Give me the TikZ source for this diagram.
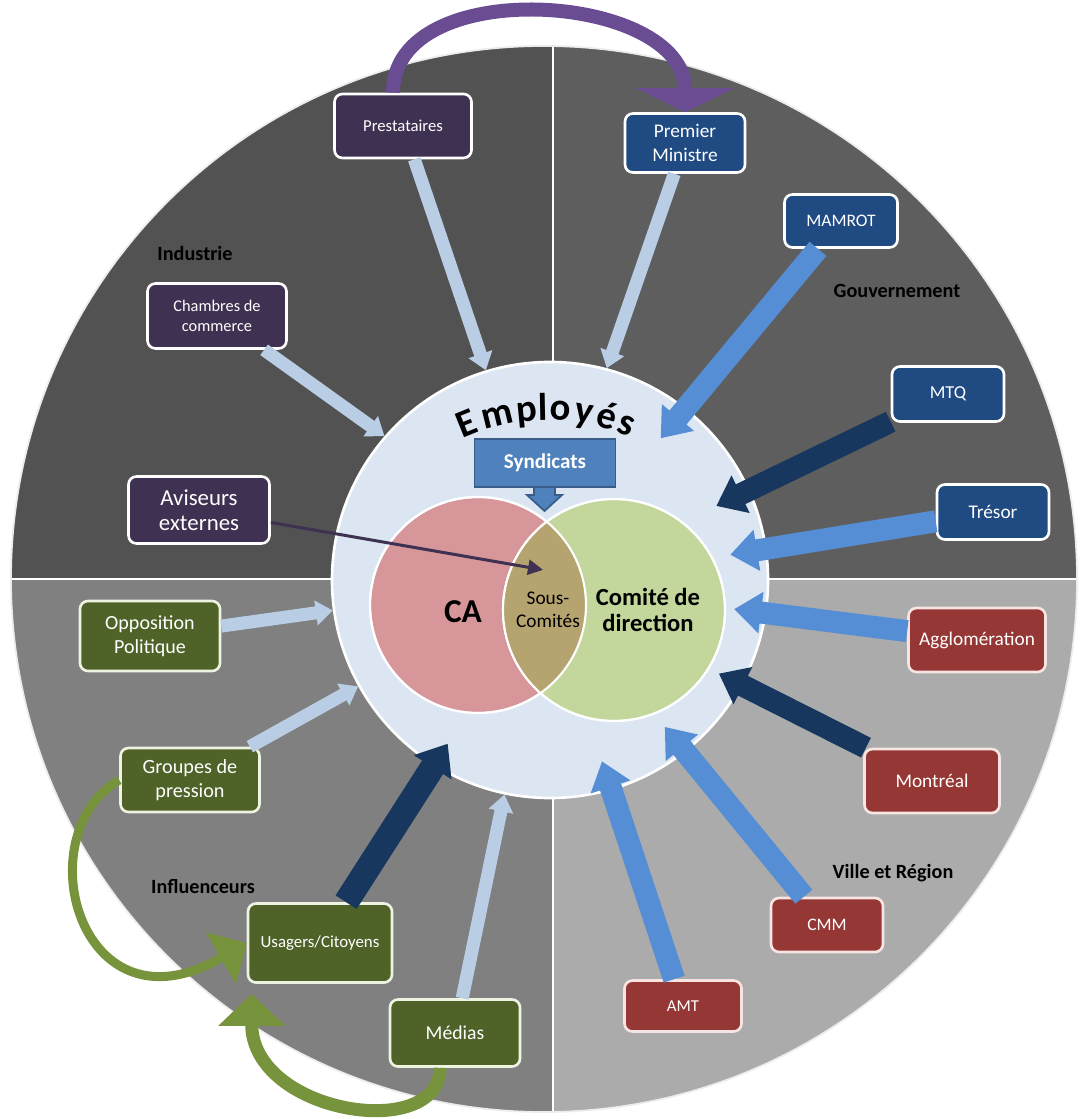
\documentclass[tikz,border=0pt]{standalone}
\usepackage{fontspec}
\setmainfont{Carlito}
\usepackage{xcolor}
\usepackage{tikz}
\usetikzlibrary{arrows.meta}
\usetikzlibrary{calc}

\definecolor{quadTL}{HTML}{525252}
\definecolor{quadTR}{HTML}{5E5E5E}
\definecolor{quadBL}{HTML}{808080}
\definecolor{quadBR}{HTML}{ABABAB}
\definecolor{empFill}{HTML}{DCE6F2}
\definecolor{caFill}{HTML}{D7979A}
\definecolor{dirFill}{HTML}{C3D69B}
\definecolor{sousFill}{HTML}{B5A46F}
\definecolor{indPurple}{HTML}{3F3151}
\definecolor{govBlue}{HTML}{1F4A82}
\definecolor{vilRed}{HTML}{953735}
\definecolor{vilEdge}{HTML}{F7E4E3}
\definecolor{inflGreen}{HTML}{4F6228}
\definecolor{inflEdge}{HTML}{EEF3E2}
\definecolor{synBlue}{HTML}{4F81BD}
\definecolor{synDark}{HTML}{385D8A}
\definecolor{paleArrow}{HTML}{B9CDE5}
\definecolor{midArrow}{HTML}{558ED5}
\definecolor{navyArrow}{HTML}{17375E}
\definecolor{purpArrow}{HTML}{6A4C93}
\definecolor{greenArrow}{HTML}{77933C}

\newcommand{\fsz}[1]{\fontsize{#1}{\dimexpr #1pt*6/5\relax}\selectfont}

\begin{document}
\begin{tikzpicture}[x=0.2mm,y=-0.2mm,
    box/.style={draw=white,line width=1.5pt,rounded corners=1.6mm,text=white,align=center,inner sep=0pt},
    indbox/.style={box,fill=indPurple},
    govbox/.style={box,fill=govBlue},
    vilbox/.style={box,fill=vilRed,draw=vilEdge},
    inflbox/.style={box,fill=inflGreen,draw=inflEdge},
    sector/.style={font=\fsz{11.5}\bfseries,text=black},
    emptext/.style={font=\fontsize{22}{24}\selectfont\bfseries,text=black,inner sep=0pt},
    palearrow/.style={draw=paleArrow,line width=2.6mm,-{Triangle[width=4.8mm,length=3.4mm]}},
    midarrow/.style={draw=midArrow,line width=4.4mm,-{Triangle[width=8mm,length=5.4mm]}},
    navyarrow/.style={draw=navyArrow,line width=4.4mm,-{Triangle[width=8mm,length=5.4mm]}},
    greenarrow/.style={draw=greenArrow,line cap=butt},
]
\useasboundingbox (0,0) rectangle (1079,1119);

% quadrants
\begin{scope}
  \clip (544,579) circle (106.6mm);
  \fill[quadTL] (0,0) rectangle (553,579);
  \fill[quadTR] (553,0) rectangle (1079,579);
  \fill[quadBL] (0,579) rectangle (553,1119);
  \fill[quadBR] (553,579) rectangle (1079,1119);
  \draw[white,line width=0.8pt] (553,0) -- (553,1119) (0,579) -- (1079,579);
\end{scope}
\draw[white!85!gray,line width=1pt] (544,579) circle (106.6mm);

% employes and venn
\node[circle,fill=empFill,draw=white,line width=1.5pt,minimum size=87.2mm,inner sep=0pt] (emp) at (550,580) {};
\node[circle,fill=caFill,draw=white,line width=1.2pt,minimum size=43.2mm,inner sep=0pt] (ca) at (478,605) {};
\node[circle,fill=dirFill,draw=white,line width=1.2pt,minimum size=44.4mm,inner sep=0pt] (dir) at (614,610) {};
\begin{scope}
  \clip (478,605) circle (21.6mm);
  \fill[sousFill] (614,610) circle (22.2mm);
\end{scope}
\draw[white,line width=1.2pt] (478,605) circle (21.6mm) (614,610) circle (22.2mm);

\node[font=\fsz{19}\bfseries] (calbl) at (463,612) {CA};
\node[font=\fontsize{14}{15}\selectfont\bfseries,align=center] (dirlbl) at (648,610) {Comité de\\direction};
\node[font=\fsz{11},align=center] (sous) at (548,610) {Sous-\\Comités};

\foreach \ch/\ang [count=\i] in {E/112,m/103.6,p/95.6,l/91.2,o/86.6,y/80.4,é/74.2,s/68.6}
  \node[emptext,anchor=base,rotate=\ang-90] (letter\i) at ($(548,625)+(-\ang:205)$) {\ch};

% syndicats callout
\filldraw[fill=synBlue,draw=synDark,line width=1pt] (534,487) -- ++(0,8) -- ++(-7,0) -- ++(17.5,16) -- ++(17.5,-16) -- ++(-7,0) -- ++(0,-8);
\node[box,fill=synBlue,draw=synDark,line width=1pt,rounded corners=0pt,minimum width=28.2mm,minimum height=9.6mm,font=\fsz{12}\bfseries] (syn) at (545,463) {Syndicats};

% industrie
\node[indbox,minimum width=27.4mm,minimum height=12.8mm,font=\fsz{9.5}] (prest) at (403,126) {Prestataires};
\node[indbox,minimum width=27.8mm,minimum height=13mm,font=\fsz{9.3}] (chambres) at (217,316) {Chambres de\\commerce};
\node[indbox,minimum width=28.2mm,minimum height=13.4mm,font=\fontsize{13}{14.5}\selectfont] (aviseurs) at (199,510) {Aviseurs\\externes};

% gouvernement
\node[govbox,minimum width=24mm,minimum height=11.8mm,font=\fsz{11}] (pm) at (685,143) {Premier\\Ministre};
\node[govbox,minimum width=22.6mm,minimum height=10.6mm,font=\fsz{10}] (mamrot) at (841,221) {MAMROT};
\node[govbox,minimum width=22.4mm,minimum height=11mm,font=\fsz{10.4}] (mtq) at (948,394) {MTQ};
\node[govbox,minimum width=22.4mm,minimum height=11mm,font=\fsz{11}] (tresor) at (993,512) {Trésor};

% ville et region
\node[vilbox,minimum width=27.4mm,minimum height=12.8mm,font=\fsz{11}] (agglo) at (977,640) {Agglomération};
\node[vilbox,minimum width=27mm,minimum height=12.8mm,font=\fsz{11}] (montreal) at (932,781) {Montréal};
\node[vilbox,minimum width=22.4mm,minimum height=10.8mm,font=\fsz{10}] (cmm) at (827,925) {CMM};
\node[vilbox,minimum width=23.4mm,minimum height=10.2mm,font=\fsz{9.5}] (amt) at (683,1006) {AMT};

% influenceurs
\node[inflbox,minimum width=28mm,minimum height=14mm,font=\fsz{11.4}] (opp) at (150,636) {Opposition\\Politique};
\node[inflbox,minimum width=27.8mm,minimum height=12.8mm,font=\fsz{11.5}] (gp) at (190,780) {Groupes de\\pression};
\node[inflbox,minimum width=28.8mm,minimum height=15.8mm,font=\fsz{9.6}] (us) at (320,943) {Usagers/Citoyens};
\node[inflbox,minimum width=26mm,minimum height=13.4mm,font=\fsz{11.2}] (med) at (455,1033) {Médias};

% sector labels
\node[sector] (lblind) at (195,253) {Industrie};
\node[sector] (lblgov) at (897,291) {Gouvernement};
\node[sector] (lblvil) at (893,873) {Ville et Région};
\node[sector] (lblinf) at (203,887) {Influenceurs};

% arrow ends inside the circle
\coordinate (tMamrot) at ($(emp.center)!0.82!(emp.52)$);
\coordinate (tMtq) at ($(emp.center)!0.83!(emp.24)$);
\coordinate (tTresor) at ($(emp.center)!0.83!(emp.8)$);
\coordinate (tAgglo) at ($(emp.center)!0.85!(emp.-9)$);
\coordinate (tMontreal) at ($(emp.center)!0.88!(emp.-29)$);
\coordinate (tCmm) at ($(emp.center)!0.85!(emp.-52)$);
\coordinate (tAmt) at ($(emp.center)!0.86!(emp.-74)$);
\coordinate (tUs) at ($(emp.center)!0.88!(emp.238)$);
\coordinate (tSous) at ($(sous.north)+(-5,-16)$);

\draw[palearrow] (prest) -- (emp.107);
\draw[palearrow] (pm) -- (emp.75);
\draw[palearrow] (chambres) -- (emp.139);
\draw[palearrow] (opp) -- (emp.188);
\draw[palearrow] (gp) -- (emp.209);
\draw[palearrow] (med) -- (emp.258);
\draw[midarrow] (mamrot) -- (tMamrot);
\draw[midarrow] (tresor) -- (tTresor);
\draw[midarrow] (agglo) -- (tAgglo);
\draw[midarrow] (cmm) -- (tCmm);
\draw[midarrow] (amt) -- (tAmt);
\draw[navyarrow] (mtq) -- (tMtq);
\draw[navyarrow] (montreal) -- (tMontreal);
\draw[navyarrow,line width=5mm,-{Triangle[width=8.6mm,length=5.6mm]}] (us) -- (tUs);
\draw[draw=indPurple,line width=0.6mm,-{Triangle[width=3mm,length=3mm]}] (aviseurs) -- (tSous);

% curved arrows
\draw[draw=purpArrow,line width=2.8mm,-{Triangle[width=19.4mm,length=4.8mm]}] ([xshift=-2mm]prest.north) .. controls +(0,-120) and +(0,-120) .. (pm.north);
\draw[greenarrow,line width=1.8mm,-{Triangle[width=11.6mm,length=6mm]}] (gp.west) .. controls (25,835) and (80,1040) .. (us.west);
\draw[greenarrow,line width=2.6mm,-{Triangle[width=13mm,length=6.4mm]}] ([xshift=-3mm]med.south) .. controls +(0,75) and +(0,120) .. ([xshift=1mm,yshift=-2mm]us.south west);
\end{tikzpicture}
\end{document}
